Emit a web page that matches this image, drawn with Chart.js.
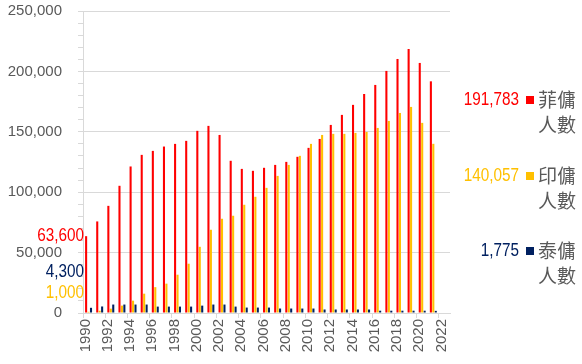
<!DOCTYPE html>
<html lang="zh-Hant">
<head>
    <meta charset="UTF-8">
    <title>外傭人數</title>
    <script src="https://cdn.jsdelivr.net/npm/chart.js"></script>
    <style>
        html, body { margin: 0; padding: 0; background: #ffffff; }
        #wrap { width: 582px; height: 364px; }
    </style>
</head>
<body>
    <div id="wrap"><canvas id="helperChart" width="582" height="364"></canvas></div>
    <script>
        // years on the x axis (2022 has no data)
        const years = [];
        for (let yr = 1990; yr <= 2022; yr++) years.push(String(yr));

        // values
        const filipino = [63600, 75800, 88700, 105300, 121300, 130900, 134200, 137800, 140000, 142500,
            150800, 154900, 147400, 126000, 119300, 117700, 120200, 122600, 125100, 129300,
            136700, 144100, 155700, 164000, 172300, 181300, 188800, 200400, 210300, 218600,
            207000, 191783, null];
        const indonesian = [1000, 1900, 3600, 6100, 10200, 16000, 21400, 24300, 31700, 40800,
            54800, 68900, 78000, 80500, 89600, 96200, 103600, 113500, 122600, 130100,
            140000, 147400, 148300, 148300, 149100, 149900, 153200, 159000, 165600, 170600,
            157400, 140057, null];
        const thai = [4300, 5400, 7000, 7000, 7000, 7000, 5300, 5300, 5300, 5300,
            6100, 7000, 7000, 5300, 4500, 4500, 4500, 3700, 3700, 3700,
            3700, 2900, 2900, 2900, 2900, 2900, 1900, 1900, 1900, 1900,
            1900, 1775, null];

        const seriesNames = [['菲傭', '人數'], ['印傭', '人數'], ['泰傭', '人數']];
        const seriesColors = ['#FF0000', '#FFC000', '#002060'];
        const yTicks = [0, 50000, 100000, 150000, 200000, 250000];

        const gray = '#595959';
        const lineGray = '#D9D9D9';
        const numFont = '"Liberation Sans", Arial, sans-serif';
        const cjkFont = '"Noto Sans CJK TC", "Noto Sans CJK SC", sans-serif';
        const fmt = v => v.toLocaleString('en-US');

        // squeezed text, to look like the narrow font of the original
        function narrowText(ctx, text, x, y, align) {
            const sx = 0.85;
            ctx.save();
            ctx.translate(x, y);
            ctx.scale(sx, 1);
            ctx.textAlign = align;
            ctx.fillText(text, 0, 0);
            ctx.restore();
        }

        // value labels at both ends plus the little legend on the right
        const endLabels = {
            id: 'endLabels',
            afterDraw(chart) {
                const ctx = chart.ctx;
                const area = chart.chartArea;
                const y = chart.scales.y;
                const all = [filipino, indonesian, thai];
                ctx.save();
                ctx.textBaseline = 'middle';
                ctx.font = '18px ' + numFont;

                // first-year values, left of the axis
                const leftY = [y.getPixelForValue(filipino[0]), area.bottom - 20, area.bottom - 41];
                all.forEach((arr, i) => {
                    ctx.fillStyle = seriesColors[i];
                    narrowText(ctx, fmt(arr[0]), area.left + 1, leftY[i], 'right');
                });

                // last-year values with legend
                const rowY = [area.top + 89, area.top + 165, area.top + 240];
                all.forEach((arr, i) => {
                    const last = arr[arr.length - 2];
                    ctx.font = '18px ' + numFont;
                    ctx.fillStyle = seriesColors[i];
                    narrowText(ctx, fmt(last), area.right + 69, rowY[i], 'right');
                    ctx.fillRect(area.right + 76, rowY[i] - 4, 8, 8);
                    ctx.font = '19px ' + cjkFont;
                    ctx.textAlign = 'left';
                    ctx.fillStyle = gray;
                    ctx.fillText(seriesNames[i][0], area.right + 88, rowY[i]);
                    ctx.fillText(seriesNames[i][1], area.right + 88, rowY[i] + 25);
                });
                ctx.restore();
            }
        };

        const chart = new Chart(document.getElementById('helperChart'), {
            type: 'bar',
            data: {
                labels: years,
                datasets: [
                    { label: '菲傭人數', data: filipino, backgroundColor: seriesColors[0] },
                    { label: '印傭人數', data: indonesian, backgroundColor: seriesColors[1] },
                    { label: '泰傭人數', data: thai, backgroundColor: seriesColors[2] }
                ]
            },
            options: {
                responsive: false,
                animation: false,
                devicePixelRatio: 1,
                categoryPercentage: 0.66,
                barPercentage: 0.85,
                layout: { padding: { left: 0, right: 132, top: 0, bottom: 0 } },
                plugins: {
                    legend: { display: false },
                    tooltip: { enabled: false }
                },
                scales: {
                    x: {
                        offset: true,
                        grid: {
                            offset: true,
                            drawOnChartArea: false,
                            tickLength: 5,
                            tickColor: ctx => (ctx.index % 2 === 0 ? lineGray : 'transparent')
                        },
                        border: { display: true, color: lineGray },
                        ticks: {
                            autoSkip: false,
                            minRotation: 90,
                            maxRotation: 90,
                            padding: 1,
                            labelOffset: -3,
                            color: gray,
                            font: { family: numFont, size: 15 },
                            callback: function (val, idx) {
                                return idx % 2 === 0 ? this.getLabelForValue(val) : '';
                            }
                        },
                        afterFit: s => { s.height = 51; }
                    },
                    y: {
                        min: yTicks[0],
                        max: yTicks[yTicks.length - 1],
                        grid: {
                            color: ctx => (ctx.tick && yTicks.includes(ctx.tick.value) ? lineGray : 'transparent'),
                            tickColor: lineGray,
                            tickLength: 5
                        },
                        border: { display: true, color: lineGray },
                        ticks: {
                            stepSize: 10000,
                            autoSkip: false,
                            padding: 16,
                            color: gray,
                            font: { family: numFont, size: 15 },
                            callback: v => (yTicks.includes(v) ? fmt(v) : '')
                        },
                        afterFit: s => {
                            s.width = 83;
                            s.paddingTop = 11;
                            s.paddingBottom = 0;
                        }
                    }
                }
            },
            plugins: [endLabels]
        });
    </script>
</body>
</html>
